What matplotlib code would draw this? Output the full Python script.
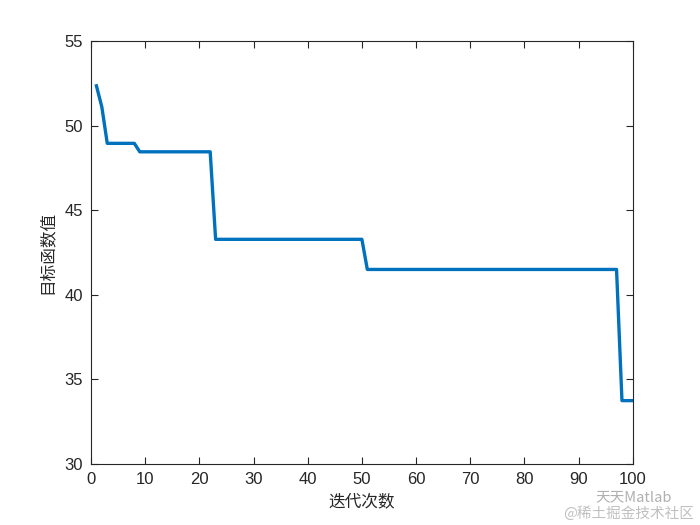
import matplotlib.pyplot as plt
import numpy as np

# iteration number and best objective value
iters = np.arange(1, 101)
# step levels: (first iteration, value)
steps = [(1, 52.35), (2, 51.1), (3, 48.95), (9, 48.45), (23, 43.28), (51, 41.5), (98, 33.75)]

best = []
for it in iters:
    v = steps[0][1]
    for s, val in steps:
        if it >= s:
            v = val
    best.append(v)

plt.rcParams['font.family'] = ['Liberation Sans', 'Noto Sans CJK SC', 'DejaVu Sans']

fig = plt.figure(figsize=(7, 5.25), dpi=100)
ax = fig.add_axes([0.13, 0.116, 0.774, 0.806])
ax.plot(iters, best, color='#0072BD', linewidth=2.4)

ax.set_xlim(0, 100)
ax.set_ylim(30, 55)
ax.set_xticks(np.arange(0, 101, 10))
ax.set_yticks(np.arange(30, 56, 5))
ax.tick_params(direction='in', length=5, width=0.8, labelsize=12, colors='#262626',
               top=True, right=True, pad=6)
for sp in ax.spines.values():
    sp.set_color('#262626')
    sp.set_linewidth(0.8)

ax.set_xlabel('迭代次数', fontsize=12, family=['Noto Sans CJK SC'], color='#262626', labelpad=4)
ax.set_ylabel('目标函数值', fontsize=12, family=['Noto Sans CJK SC'], color='#262626', labelpad=6)

# watermark
fig.text(0.85, 0.052, '天天Matlab', fontsize=10.5, color='#b0b0b0', family=['Noto Sans CJK SC', 'DejaVu Sans'], ha='left', va='center')
fig.text(0.805, 0.022, '@稀土掘金技术社区', fontsize=10.5, color='#c0c0c0', family=['Noto Sans CJK SC', 'DejaVu Sans'], ha='left', va='center')

fig.savefig('out.png', dpi=100)
